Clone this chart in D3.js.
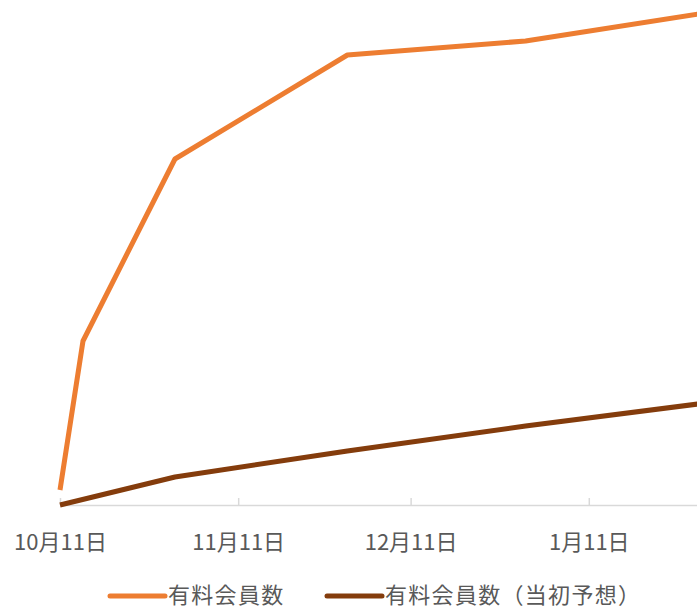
<!DOCTYPE html>
<html>
<head>
<meta charset="utf-8">
<script src="https://cdn.jsdelivr.net/npm/d3@7"></script>
<style>
  body { margin: 0; background: #fff; }
  text { font-family: "Noto Sans CJK JP", "Noto Sans", sans-serif; fill: #595959; }
</style>
</head>
<body>
<div class="chart"></div>
<script>
// data (units arbitrary, no y axis shown)
const actualDates = ["2020-10-11", "2020-10-15", "2020-10-31", "2020-11-30", "2020-12-31", "2021-01-30"];
const actualValues = [3.0, 32.8, 69.2, 90.0, 92.8, 98.2];

const planDates = ["2020-10-11", "2020-10-31", "2020-11-30", "2020-12-31", "2021-01-30"];
const planValues = [0, 5.6, 10.8, 15.8, 20.2];

const tickDates = ["2020-10-11", "2020-11-11", "2020-12-11", "2021-01-11"];
const seriesNames = ["有料会員数", "有料会員数（当初予想）"];
const seriesColors = ["#ED7D31", "#843C0C"];

const W = 697, H = 611;
const parse = d3.timeParse("%Y-%m-%d");

const svg = d3.select(".chart").append("svg")
    .attr("width", W)
    .attr("height", H)

const xScale = d3.scaleTime()
    .domain([parse("2020-10-11"), parse("2021-01-30")])
    .range([60, 698])

const yScale = d3.scaleLinear()
    .domain([0, 100])
    .range([505, 5])

// axis
const xAxis = d3.axisBottom(xScale)
    .tickValues(tickDates.map(parse))
    .tickFormat(d3.timeFormat("%-m月%-d日"))
    .tickSize(-7)
    .tickSizeOuter(0)
    .tickPadding(29)

const gx = svg.append("g")
    .attr("class", "axis x-axis")
    .attr("transform", "translate(0,505)")
    .call(xAxis)

gx.select(".domain").attr("stroke", "#D9D9D9").attr("stroke-width", 1.5)
gx.selectAll(".tick line").attr("stroke", "#D9D9D9").attr("stroke-width", 1.5)
gx.selectAll(".tick text")
    .attr("font-size", 22)
    .attr("fill", "#595959")
    .style("font-family", '"Noto Sans CJK JP", sans-serif')

const line = d3.line()
    .x(d => xScale(d.date))
    .y(d => yScale(d.value))

const series = [
    actualDates.map((d, i) => ({date: parse(d), value: actualValues[i]})),
    planDates.map((d, i) => ({date: parse(d), value: planValues[i]}))
];

svg.selectAll(".series")
    .data(series)
    .join("path")
    .attr("class", "series")
    .attr("d", line)
    .attr("fill", "none")
    .attr("stroke", (d, i) => seriesColors[i])
    .attr("stroke-width", 5)
    .attr("stroke-linejoin", "round")

// legend
const legendX = [110, 327];
const legend = svg.selectAll(".legend")
    .data(seriesNames)
    .join("g")
    .attr("class", "legend")
    .attr("transform", (d, i) => `translate(${legendX[i]},596)`)

legend.append("line")
    .attr("x1", 0).attr("x2", 55)
    .attr("stroke", (d, i) => seriesColors[i])
    .attr("stroke-width", 5)
    .attr("stroke-linecap", "round")

legend.append("text")
    .attr("x", 58)
    .attr("dy", "0.33em")
    .attr("font-size", 22)
    .attr("letter-spacing", 1.3)
    .text(d => d)
</script>
</body>
</html>
